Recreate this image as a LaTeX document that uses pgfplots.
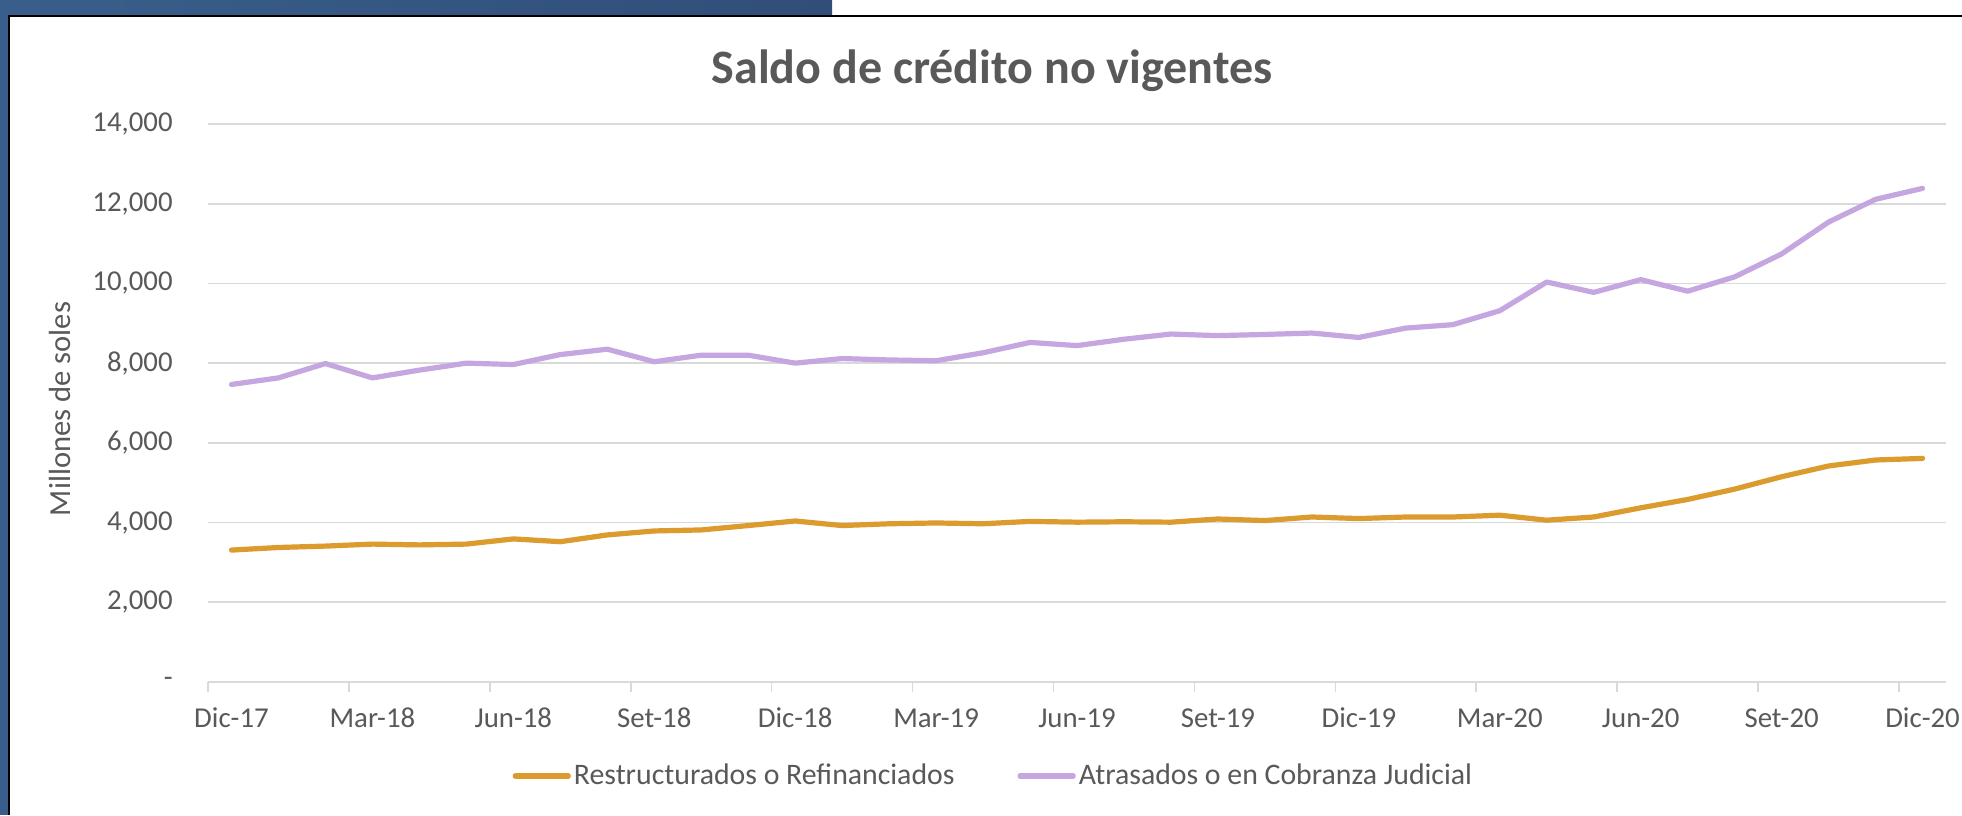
\documentclass[border=0pt]{standalone}
\usepackage{fontspec}
\setmainfont{Carlito}
\usepackage{pgfplots}
\usepackage{pgfplotstable}
\pgfplotsset{compat=1.18}

\definecolor{naranja}{RGB}{220,155,45}
\definecolor{lila}{RGB}{197,166,224}
\definecolor{gristxt}{RGB}{89,89,89}
\definecolor{grisgrid}{RGB}{217,217,217}
\definecolor{azulA}{RGB}{58,94,140}
\definecolor{azulB}{RGB}{48,78,120}

% meses desde Dic-17 (0) hasta Dic-20 (36)
\pgfplotstableread{
x  rest  atr
0  3310  7465
1  3375  7630
2  3410  7990
3  3460  7630
4  3440  7825
5  3460  8000
6  3590  7965
7  3520  8215
8  3690  8350
9  3790  8035
10 3815  8200
11 3925  8200
12 4040  8000
13 3925  8115
14 3970  8080
15 3990  8060
16 3970  8260
17 4030  8520
18 4010  8440
19 4020  8600
20 4010  8730
21 4090  8690
22 4050  8720
23 4140  8755
24 4100  8645
25 4140  8880
26 4140  8965
27 4185  9315
28 4060  10035
29 4140  9775
30 4370  10095
31 4580  9805
32 4840  10165
33 5150  10740
34 5420  11540
35 5570  12110
36 5610  12385
}\datos

\begin{document}
\begin{tikzpicture}
\path[use as bounding box] (0,0) rectangle (981pt,407.5pt);
\fill[white] (0,0) rectangle (981pt,407.5pt);
% marco de la diapositiva
\fill[azulA] (0,0) rectangle (4pt,407.5pt);
\shade[left color=azulA, right color=azulB] (0,400pt) rectangle (416pt,407.5pt);
\draw[black, line width=1.1pt] (4.6pt,0) -- (4.6pt,399.5pt) -- (981pt,399.5pt);

\begin{axis}[
  at={(104pt,66.5pt)}, anchor=south west,
  scale only axis, width=869pt, height=279pt,
  xmin=-0.5, xmax=36.5, ymin=0, ymax=14000,
  scaled y ticks=false,
  axis line style={draw=none},
  xtick pos=bottom, ytick pos=left,
  ytick={0,2000,...,14000},
  yticklabels={{-\hspace{11.5pt}},{2,000},{4,000},{6,000},{8,000},{10,000},{12,000},{14,000}},
  ytick style={draw=none},
  ymajorgrids, grid style={grisgrid, line width=0.8pt},
  xtick={0,3,...,36},
  xticklabels={Dic-17,Mar-18,Jun-18,Set-18,Dic-18,Mar-19,Jun-19,Set-19,Dic-19,Mar-20,Jun-20,Set-20,Dic-20},
  major tick length=0pt,
  extra x ticks={-0.5,2.5,...,35.5},
  extra x tick labels={},
  extra x tick style={grid=none, major tick length=5pt, tick align=outside,
    tick style={grisgrid, line width=0.8pt}},
  tick label style={font=\fontsize{14.4}{17}\selectfont, text=gristxt, inner sep=0pt},
  yticklabel style={anchor=east, xshift=-17.5pt},
  xticklabel style={anchor=base, yshift=-22.5pt},
  legend columns=2,
  legend cell align=left,
  legend style={at={(0.4522,-0.1685)}, anchor=center, draw=none, fill=none,
    font=\fontsize{14.9}{17}\selectfont, text=gristxt,
    nodes={inner xsep=1.5pt, inner ysep=0pt},
    /tikz/every even column/.append style={column sep=30pt}},
  legend image code/.code={\draw[#1, line cap=round] (0pt,0pt) -- (26.5pt,0pt);},
  every axis plot/.append style={line width=2.6pt, line join=round, line cap=round},
  clip=false,
]
\addplot[naranja] table[x=x, y=rest] {\datos};
\addlegendentry{Restructurados o Refinanciados}
\addplot[lila] table[x=x, y=atr] {\datos};
\addlegendentry{Atrasados o en Cobranza Judicial}
\end{axis}

\node[font=\fontsize{24}{28}\selectfont\bfseries, text=gristxt] at (496pt,372pt) {Saldo de crédito no vigentes};
\node[rotate=90, font=\fontsize{15.3}{18}\selectfont, text=gristxt] at (30pt,203pt) {Millones de soles};
\end{tikzpicture}
\end{document}
